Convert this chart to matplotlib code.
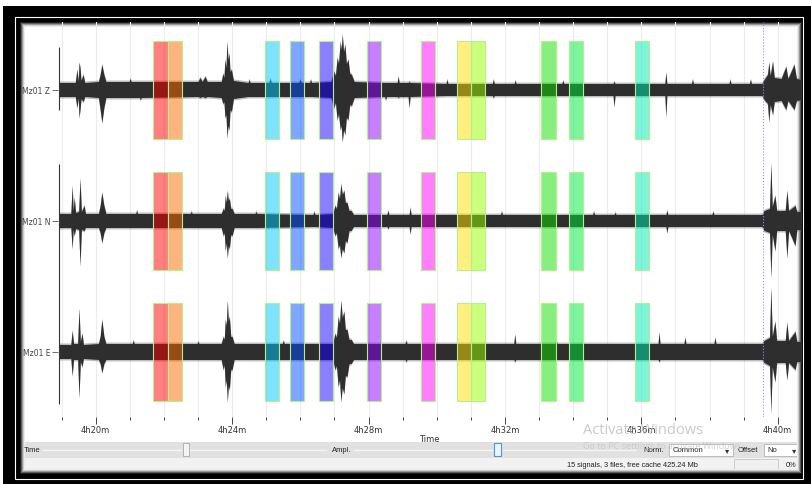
import matplotlib
matplotlib.use("Agg")
import matplotlib.pyplot as plt
from matplotlib.patches import Rectangle
from matplotlib.colors import to_rgba
from matplotlib.ticker import FixedLocator, MultipleLocator

# time axis, minutes after 4h00m
tick_minutes = [20, 24, 28, 32, 36, 40]
tick_labels = ["4h20m", "4h24m", "4h28m", "4h32m", "4h36m", "4h40m"]
t_start = 18.924
t_end = 40.683

trace_names = ["Mz01 Z", "Mz01 N", "Mz01 E"]
trace_offsets = [327.5, 196.5, 65.5]

# selected windows (start in minutes, 25 s long)
win_start = [21.69, 22.11, 24.96, 25.69, 26.55, 27.95, 29.53, 30.60, 31.01, 33.07, 33.87, 35.81]
win_len = 25 / 60
win_colors = ["#ff0000", "#ff6a00", "#00c8ff", "#0050ff", "#1a00ff", "#8c00ff",
              "#ff00ff", "#ffe100", "#9dff00", "#12e000", "#00eb40", "#00ebb4"]
marker_time = 39.56

# signal envelopes: time, amplitude up, amplitude down
z_t = [18.93, 19.40, 19.45, 19.49, 19.51, 19.54, 19.57, 19.63, 19.68, 20.08, 20.13, 20.18, 20.24, 20.30,
       20.98, 21.01, 21.04, 21.28, 21.31, 21.34, 23.00, 23.06, 23.12, 23.21, 23.27,
       23.68, 23.73, 23.76, 23.79, 23.82, 23.85, 23.88, 23.91, 23.94, 23.98, 24.04,
       24.47, 24.50, 24.53, 25.08, 25.11, 25.15, 25.96, 25.99, 26.03, 26.27, 26.30, 26.33,
       26.90, 26.98, 27.03, 27.08, 27.12, 27.17, 27.20, 27.23, 27.27, 27.31, 27.35, 27.40, 27.45, 27.50, 27.58,
       28.47, 28.50, 28.53, 28.84, 28.87, 28.90, 29.16, 29.19, 29.22, 30.27, 30.30, 30.33, 31.63, 31.66, 31.69,
       32.27, 32.30, 32.33, 33.67, 33.70, 33.73, 35.17, 35.20, 35.23, 36.69, 36.72, 36.75, 37.47, 37.50, 37.53,
       38.57, 38.60, 38.63, 39.17, 39.20, 39.23,
       39.54, 39.60, 39.70, 39.74, 39.78, 39.85, 39.90, 40.10, 40.24, 40.30, 40.48, 40.55, 40.683]
z_up = [7, 7, 20, 8, 27, 22, 9, 15, 7, 8, 15, 25, 15, 8,
        8, 11, 8, 8, 8, 8, 8, 12, 8, 13, 8,
        8, 16, 12, 30, 22, 48, 30, 36, 18, 20, 9,
        7, 10, 7, 7, 11, 7, 7, 10, 7, 7, 10, 7,
        8, 18, 14, 32, 26, 48, 40, 55, 38, 45, 26, 30, 16, 15, 8,
        7, 7, 7, 7, 13, 7, 7, 8, 7, 6, 10, 6, 6, 10, 6,
        6, 9, 6, 6, 9, 6, 6, 8, 6, 6, 17, 6, 6, 10, 6,
        6, 10, 6, 6, 10, 6,
        6, 10, 15, 27, 14, 28, 12, 11, 23, 11, 25, 11, 10]
z_dn = [7, 7, 18, 8, 28, 20, 9, 12, 7, 8, 20, 33, 18, 8,
        8, 8, 8, 8, 10, 8, 7, 8, 7, 8, 7,
        8, 14, 12, 28, 25, 48, 36, 40, 20, 22, 9,
        7, 7, 7, 7, 7, 7, 7, 7, 7, 7, 7, 7,
        8, 18, 13, 30, 24, 40, 36, 52, 40, 45, 28, 30, 15, 16, 8,
        7, 10, 7, 7, 8, 7, 7, 18, 7, 6, 6, 6, 6, 8, 6,
        6, 6, 6, 6, 6, 6, 6, 17, 6, 6, 27, 6, 6, 6, 6,
        6, 6, 6, 6, 6, 6,
        6, 10, 14, 32, 15, 25, 12, 11, 20, 11, 20, 11, 10]

n_t = [18.93, 19.27, 19.31, 19.34, 19.37, 19.41, 19.50, 19.54, 19.58, 19.66, 19.70, 20.08, 20.13, 20.18, 20.24, 20.30,
       21.17, 21.20, 21.23, 22.77, 22.80, 22.83,
       23.68, 23.74, 23.77, 23.80, 23.83, 23.86, 23.89, 23.92, 23.96, 24.00, 24.06,
       24.67, 24.70, 24.73, 26.37, 26.40, 26.43,
       26.95, 27.02, 27.06, 27.11, 27.15, 27.19, 27.23, 27.28, 27.32, 27.37, 27.43, 27.49, 27.56,
       28.54, 28.57, 28.60, 29.19, 29.22, 29.25, 31.87, 31.90, 31.93, 34.57, 34.60, 34.63,
       35.20, 35.23, 35.26, 36.72, 36.75, 36.78, 38.07, 38.10, 38.13,
       39.54, 39.60, 39.76, 39.80, 39.84, 39.92, 39.97, 40.22, 40.27, 40.32, 40.51, 40.56, 40.683]
n_up = [7, 7, 35, 10, 23, 8, 9, 42, 9, 15, 7, 7, 15, 28, 15, 7,
        7, 10, 7, 7, 9, 7,
        7, 12, 10, 25, 18, 30, 20, 22, 12, 12, 7,
        7, 9, 7, 6, 9, 6,
        7, 15, 12, 28, 22, 37, 26, 30, 18, 18, 10, 10, 6,
        6, 10, 6, 6, 13, 6, 6, 9, 6, 6, 9, 6,
        6, 8, 6, 6, 10, 6, 6, 9, 6,
        6, 10, 12, 57, 14, 25, 10, 10, 30, 10, 15, 9, 9]
n_dn = [7, 7, 28, 9, 15, 8, 9, 45, 9, 10, 7, 7, 12, 22, 12, 7,
        7, 7, 7, 7, 7, 7,
        7, 15, 12, 30, 22, 37, 25, 28, 14, 15, 7,
        7, 7, 7, 6, 6, 6,
        7, 15, 12, 28, 24, 37, 28, 32, 20, 22, 10, 10, 6,
        6, 8, 6, 6, 13, 6, 6, 6, 6, 6, 6, 6,
        6, 6, 6, 6, 12, 6, 6, 6, 6,
        6, 10, 12, 57, 14, 30, 10, 10, 37, 10, 25, 9, 9]

e_t = [18.93, 19.27, 19.31, 19.35, 19.47, 19.51, 19.55, 19.60, 19.64, 20.08, 20.13, 20.18, 20.24, 20.30,
       21.07, 21.10, 21.13, 22.97, 23.00, 23.03,
       23.68, 23.74, 23.77, 23.80, 23.83, 23.86, 23.89, 23.92, 23.96, 24.00, 24.06,
       25.47, 25.50, 25.53,
       26.95, 27.02, 27.06, 27.11, 27.15, 27.19, 27.23, 27.28, 27.32, 27.37, 27.43, 27.49, 27.56,
       29.07, 29.10, 29.13, 32.26, 32.29, 32.32, 33.47, 33.50, 33.53,
       36.49, 36.52, 36.55, 37.25, 37.28, 37.31, 38.13, 38.16, 38.19,
       39.54, 39.60, 39.76, 39.80, 39.84, 39.92, 39.97, 40.22, 40.27, 40.32, 40.51, 40.56, 40.683]
e_up = [7, 7, 21, 8, 8, 43, 10, 18, 7, 8, 15, 32, 15, 8,
        8, 11, 8, 8, 10, 8,
        8, 15, 12, 32, 26, 51, 30, 35, 15, 15, 8,
        8, 11, 8,
        8, 18, 14, 35, 28, 51, 34, 40, 22, 22, 12, 12, 8,
        8, 11, 8, 8, 17, 8, 8, 12, 8,
        8, 19, 8, 8, 14, 8, 8, 14, 8,
        8, 11, 14, 64, 15, 30, 11, 11, 29, 11, 20, 10, 10]
e_dn = [7, 7, 24, 8, 8, 46, 10, 15, 7, 8, 12, 21, 12, 8,
        8, 8, 8, 8, 8, 8,
        8, 18, 13, 35, 28, 50, 34, 38, 18, 18, 8,
        8, 8, 8,
        8, 18, 14, 35, 28, 50, 36, 42, 24, 25, 12, 12, 8,
        8, 10, 8, 8, 10, 8, 8, 8, 8,
        8, 10, 8, 8, 8, 8, 8, 8, 8,
        8, 11, 14, 61, 15, 30, 11, 11, 28, 11, 18, 10, 10]

# first samples: big step at the start of Z and N
start_up = [43, 57, 0]
start_dn = [20, 183, 0]

env_t = [z_t, n_t, e_t]
env_up = [z_up, n_up, e_up]
env_dn = [z_dn, n_dn, e_dn]

W, H = 812, 485
fig = plt.figure(figsize=(W / 100, H / 100), dpi=100)
fig.patch.set_facecolor("white")

# window frame / gui in pixel coords
bg = fig.add_axes([0, 0, 1, 1], zorder=-1)
bg.set_xlim(0, W)
bg.set_ylim(H, 0)
bg.axis("off")

bg.text(96, -3.5, "Identifying time windows in the Geopsy display", fontsize=16, fontweight="bold",
        va="baseline", ha="left", color="black", zorder=1)
bg.add_patch(Rectangle((3, 7), W - 3, H - 7, facecolor="black", edgecolor="none", zorder=2))
bg.add_patch(Rectangle((15, 18.2), 788, 462, fill=False, edgecolor="white", lw=0.8, zorder=3))
bg.add_patch(Rectangle((20, 23), 781, 451, facecolor="white", edgecolor="none", zorder=3))
# slider bar + status bar
bg.add_patch(Rectangle((20, 443), 781, 16, facecolor="#e1e1e1", edgecolor="none", zorder=4))
bg.add_patch(Rectangle((20, 459), 781, 15, facecolor="#f2f2f2", edgecolor="none", zorder=4))
bg.plot([43, 181], [451, 451], color="#f4f4f4", lw=1, zorder=5)
bg.plot([190, 326], [451, 451], color="#f4f4f4", lw=1, zorder=5)
bg.plot([354, 492], [451, 451], color="#f4f4f4", lw=1, zorder=5)
bg.plot([503, 636], [451, 451], color="#f4f4f4", lw=1, zorder=5)
bg.add_patch(Rectangle((183, 444), 6, 13, facecolor="#f4f4f4", edgecolor="#a8a8a8", lw=0.6, zorder=6))
bg.add_patch(Rectangle((494, 444), 7, 13, facecolor="#eef4fa", edgecolor="#4a9ad0", lw=0.8, zorder=6))
ui_font = "Liberation Sans"
bg.text(24, 451, "Time", fontsize=5.5, family=ui_font, va="center", color="#222", zorder=9)
bg.text(332, 451, "Ampl.", fontsize=5.5, family=ui_font, va="center", color="#222", zorder=6)
bg.text(643, 451, "Norm.", fontsize=5.5, family=ui_font, va="center", color="#222", zorder=6)
bg.add_patch(Rectangle((669, 445), 64, 12, facecolor="white", edgecolor="#b4b4b4", lw=0.6, zorder=6))
bg.text(673, 451, "Common", fontsize=5.5, family=ui_font, va="center", color="#222", zorder=7)
bg.text(727, 451, "\u25be", fontsize=6, va="center", ha="center", color="#333", zorder=7)
bg.text(738, 451, "Offset", fontsize=5.5, family=ui_font, va="center", color="#222", zorder=6)
bg.add_patch(Rectangle((764, 445), 35, 12, facecolor="white", edgecolor="#b4b4b4", lw=0.6, zorder=6))
bg.text(767, 451, "No", fontsize=5.5, family=ui_font, va="center", color="#222", zorder=7)
bg.text(794, 451, "\u25be", fontsize=6, va="center", ha="center", color="#333", zorder=7)
bg.text(567, 466, "15 signals, 3 files, free cache 425.24 Mb", fontsize=5.3, family=ui_font,
        va="center", color="#222", zorder=9)
bg.add_patch(Rectangle((734, 460), 44, 11, facecolor="#f0f0f0", edgecolor="#c8c8c8", lw=0.6, zorder=6))
bg.text(796, 466, "0%", fontsize=5.3, family=ui_font, va="center", ha="right", color="#222", zorder=9)
# soft inner shadow of the window
for i, g in enumerate(["#1e1e1e", "#5a5a5a", "#999999", "#cccccc", "#ececec"]):
    bg.add_patch(Rectangle((20 + i, 23 + i), 781 - 2 * i, 451 - 2 * i, fill=False,
                           edgecolor=g, lw=0.75, zorder=8))

# seismogram axes
ax = fig.add_axes([58 / W, (H - 418) / H, (801 - 58) / W, (418 - 23) / H])
ax.set_facecolor("none")
ax.set_xlim(18.894, t_end)
ax.set_ylim(0, 395)
for s in ax.spines.values():
    s.set_visible(False)

for k in range(3):
    off = trace_offsets[k]
    t = env_t[k]
    up = [off + a for a in env_up[k]]
    dn = [off - a for a in env_dn[k]]
    ax.fill_between(t, [u + 1.5 for u in up], [d - 1.5 for d in dn], color="#5a5a5a", alpha=0.4, lw=0, zorder=2)
    ax.fill_between(t, up, dn, color="#2e2e2e", lw=0, zorder=2)
    if start_up[k] or start_dn[k]:
        ax.vlines(t_start, off - start_dn[k], off + start_up[k], color="#333333", lw=0.8, zorder=2)
    ax.bar(win_start, 98, width=win_len, bottom=off - 49, align="edge",
           color=[to_rgba(c, 0.5) for c in win_colors], edgecolor="#b4f08c", lw=0.8, zorder=3)

ax.axvline(marker_time, color="#8c8cff", ls=":", lw=0.8, zorder=4)

ax.xaxis.set_major_locator(FixedLocator(tick_minutes))
ax.xaxis.set_minor_locator(MultipleLocator(1))
ax.set_xticklabels(tick_labels)
ax.grid(True, which="both", axis="x", color="#ececec", lw=0.8, zorder=0)
ax.tick_params(axis="x", which="major", length=5, width=0.7, color="#444", pad=0.5,
               labelsize=6, labelcolor="#333")
ax.tick_params(axis="x", which="minor", length=2, width=0.7, color="#444")
ax.set_xlabel("Time", fontsize=6, color="#333", labelpad=0)

ax.set_yticks(trace_offsets)
ax.set_yticklabels(trace_names)
ax.tick_params(axis="y", length=4.5, width=0.6, color="#555", pad=1, labelsize=5.5, labelcolor="#444")

# windows watermark
fig.text(583 / W, 1 - 431 / H, "Activate Windows", fontsize=10.5, family="Open Sans",
         color="#b8b8b8", alpha=0.75, va="center", zorder=10)
fig.text(583 / W, 1 - 447 / H, "Go to PC settings to activate Windows.", fontsize=6.5, family="Open Sans",
         color="#c4c4c4", alpha=0.75, va="center", zorder=10)

fig.savefig("out.png", dpi=100)
